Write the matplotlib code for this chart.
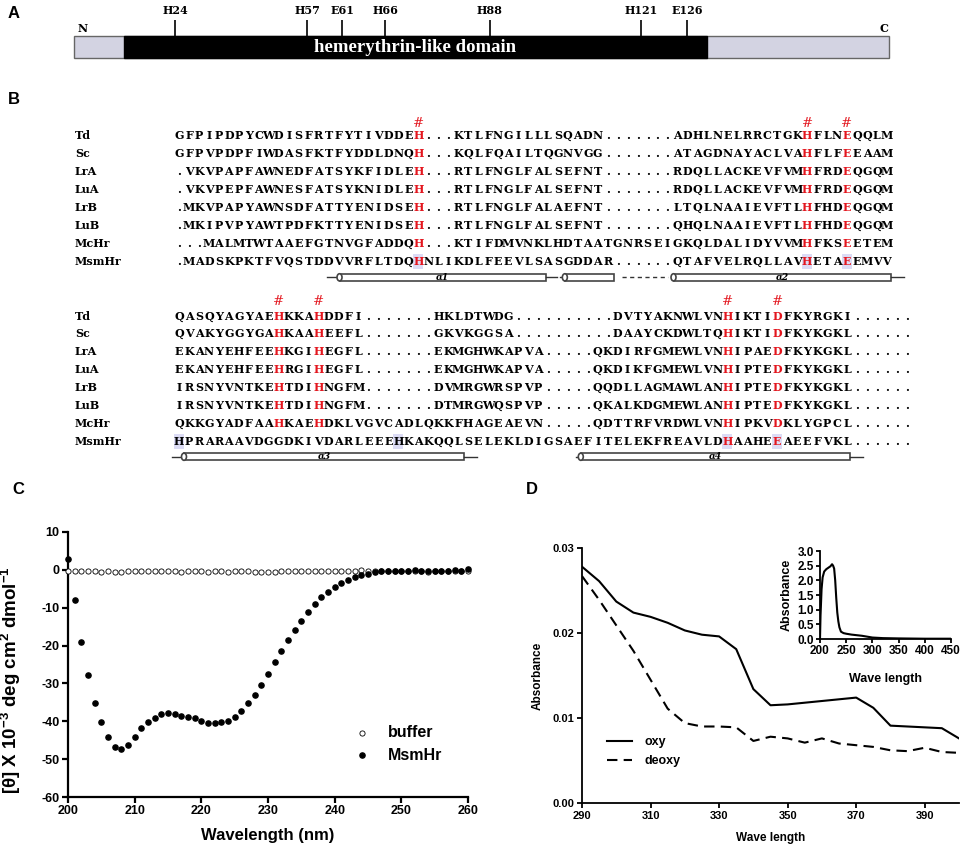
import matplotlib
matplotlib.use("Agg")
import matplotlib.pyplot as plt
from matplotlib.patches import Rectangle, Ellipse
import matplotlib.transforms as mtransforms
from matplotlib.ticker import FormatStrFormatter

plt.rcParams['font.family'] = ['Liberation Sans', 'DejaVu Sans']
plt.rcParams['axes.unicode_minus'] = False
plt.rcParams['mathtext.fontset'] = 'custom'
plt.rcParams['mathtext.rm'] = 'Liberation Sans:bold'
plt.rcParams['mathtext.it'] = 'Liberation Sans:bold'
plt.rcParams['mathtext.bf'] = 'Liberation Sans:bold'
plt.rcParams['mathtext.default'] = 'rm'

# ------------------------------------------------------------------ data
# Panel A (schematic positions along the protein bar, 0..1)
domain_label = "hemerythrin-like domain"
domain_span = (0.061, 0.777)
site_labels = ["H24", "H57", "E61", "H66", "H88", "H121", "E126"]
site_pos = [0.124, 0.286, 0.329, 0.382, 0.510, 0.696, 0.752]

# Panel B
seq_names = ["Td", "Sc", "LrA", "LuA", "LrB", "LuB", "McHr", "MsmHr"]
block1_seqs = [
    "GFPIPDPYCWDISFRTFYTIVDDEH...KTLFNGILLLSQADN.......ADHLNELRRCTGKHFLNEQQLM",
    "GFPVPDPFIWDASFKTFYDDLDNQH...KQLFQAILTQGNVGG.......ATAGDNAYACLVAHFLFEEAAM",
    ".VKVPAPFAWNEDFATSYKFIDLEH...RTLFNGLFALSEFNT.......RDQLLACKEVFVMHFRDEQGQM",
    ".VKVPEPFAWNESFATSYKNIDLEH...RTLFNGLFALSEFNT.......RDQLLACKEVFVMHFRDEQGQM",
    ".MKVPAPYAWNSDFATTYENIDSEH...RTLFNGLFALAEFNT.......LTQLNAAIEVFTLHFHDEQGQM",
    ".MKIPVPYAWTPDFKTTYENIDSEH...RTLFNGLFALSEFNT.......QHQLNAAIEVFTLHFHDEQGQM",
    "...MALMTWTAAEFGTNVGFADDQH...KTIFDMVNKLHDTAATGNRSEIGKQLDALIDYVVMHFKSEETEM",
    ".MADSKPKTFVQSTDDVVRFLTDQHNLIKDLFEEVLSASGDDAR......QTAFVELRQLLAVHETAEEMVV",
]
block2_seqs = [
    "QASQYAGYAEHKKAHDDFI.......HKLDTWDG..........DVTYAKNWLVNHIKTIDFKYRGKI......",
    "QVAKYGGYGAHKAAHEEFL.......GKVKGGSA..........DAAYCKDWLTQHIKTIDFKYKGKL......",
    "EKANYEHFEEHKGIHEGFL.......EKMGHWKAPVA.....QKDIRFGMEWLVNHIPAEDFKYKGKL......",
    "EKANYEHFEEHRGIHEGFL.......EKMGHWKAPVA.....QKDIKFGMEWLVNHIPTEDFKYKGKL......",
    "IRSNYVNTKEHTDIHNGFM.......DVMRGWRSPVP.....QQDLLAGMAWLANHIPTEDFKYKGKL......",
    "IRSNYVNTKEHTDIHNGFM.......DTMRGWQSPVP.....QKALKDGMEWLANHIPTEDFKYKGKL......",
    "QKKGYADFAAHKAEHDKLVGVCADLQKKFHAGEAEVN.....QDTTRFVRDWLVNHIPKVDKLYGPCL......",
    "HPRARAAVDGGDKIVDARLEEEHKAKQQLSELEKLDIGSAEFITELEKFREAVLDHAAHEEAEEFVKL......",
]
block1_marks = [25, 64, 68]          # columns flagged with '#'
block2_marks = [11, 15, 56, 61]
block1_shaded = [25, 64, 68]         # shaded columns in MsmHr
block2_shaded = [1, 23, 56, 61]
# secondary structure (kind, start column, end column, label)
block1_ss = [("line", 15.8, 17.1, ""), ("helix", 17.1, 37.8, "α1"), ("line", 37.8, 38.9, ""),
             ("line", 39.2, 39.7, ""), ("helix", 39.7, 44.6, ""), ("dash", 45.4, 50.0, ""),
             ("helix", 50.6, 72.4, "α2"), ("line", 72.4, 73.7, "")]
block2_ss = [("line", 0.3, 1.5, ""), ("helix", 1.5, 29.6, "α3"), ("line", 29.6, 30.9, ""),
             ("line", 40.8, 41.3, ""), ("helix", 41.3, 68.3, "α4"), ("line", 68.3, 69.6, "")]

# Panel C (CD spectrum)
cd_wavelength = list(range(200, 261))
cd_buffer = [-0.4, -0.4, -0.4, -0.2, -0.3, -0.5, -0.4, -0.5, -0.5, -0.4,
             -0.3, -0.4, -0.2, -0.3, -0.4, -0.3, -0.4, -0.5, -0.4, -0.3,
             -0.4, -0.5, -0.3, -0.3, -0.5, -0.4, -0.3, -0.4, -0.5, -0.5,
             -0.5, -0.6, -0.4, -0.2, -0.3, -0.3, -0.2, -0.3, -0.3, -0.3,
             -0.3, -0.4, -0.4, -0.2, -0.1, -0.2, -0.3, -0.3, -0.2, -0.3,
             -0.3, -0.3, -0.2, -0.3, -0.5, -0.4, -0.3, -0.3, -0.2, -0.3, -0.3]
cd_msmhr = [3.0, -8.0, -19.0, -27.7, -35.1, -40.1, -44.1, -46.7, -47.2, -46.2,
            -44.1, -41.8, -40.3, -39.2, -38.2, -37.8, -38.2, -38.5, -38.9, -39.1,
            -40.0, -40.5, -40.4, -40.1, -40.0, -38.9, -37.2, -35.1, -33.0, -30.4,
            -27.5, -24.4, -21.5, -18.6, -15.9, -13.5, -11.1, -8.9, -7.3, -5.8,
            -4.6, -3.4, -2.6, -1.9, -1.3, -1.0, -0.6, -0.4, -0.3, -0.2,
            -0.2, -0.3, -0.1, -0.2, -0.3, -0.3, -0.2, -0.2, -0.1, -0.2, 0.1]

# Panel D (absorbance)
uv_wavelength = [290, 295, 300, 305, 310, 315, 320, 325, 330, 335, 340, 345,
                 350, 355, 360, 365, 370, 375, 380, 385, 390, 395, 400]
uv_oxy = [0.0278, 0.0261, 0.0237, 0.0224, 0.0219, 0.0212, 0.0203, 0.0198, 0.0196, 0.0181,
          0.0134, 0.0115, 0.0116, 0.0118, 0.0120, 0.0122, 0.0124, 0.0112, 0.0091, 0.0090,
          0.0089, 0.0088, 0.0076]
uv_deoxy = [0.0267, 0.0239, 0.0209, 0.0179, 0.0145, 0.0111, 0.0094, 0.0090, 0.0090, 0.0089,
            0.0073, 0.0078, 0.0076, 0.0071, 0.0076, 0.0070, 0.0068, 0.0066, 0.0062, 0.0061,
            0.0065, 0.0060, 0.0059]
inset_wavelength = [200, 201, 203, 205, 208, 212, 216, 220, 223, 225, 227, 229, 231, 233,
                    235, 237, 240, 245, 250, 260, 270, 280, 290, 300, 320, 350, 400, 450]
inset_abs = [0.0, 0.8, 1.7, 2.1, 2.3, 2.38, 2.43, 2.48, 2.55, 2.5, 2.4, 2.0, 1.4, 0.9,
             0.6, 0.4, 0.25, 0.2, 0.18, 0.15, 0.13, 0.11, 0.08, 0.05, 0.03, 0.02, 0.01, 0.01]

# ------------------------------------------------------------------ figure
W, H = 964, 849
fig = plt.figure(figsize=(W / 100, H / 100), dpi=100)
RED = '#e3161e'
LAV = '#dcdcf5'


def px_axes(l, t, r, b, **kw):
    return fig.add_axes([l / W, 1 - b / H, (r - l) / W, (b - t) / H], **kw)


panel_font = dict(fontsize=12, fontweight='bold', family='Liberation Sans', ha='center', va='center')
fig.text(14 / W, 1 - 14 / H, 'A', **panel_font)
fig.text(14 / W, 1 - 100 / H, 'B', **panel_font)
fig.text(18 / W, 1 - 490 / H, 'C', **panel_font)
fig.text(532 / W, 1 - 490 / H, 'D', **panel_font)

seqfont = dict(family='DejaVu Serif', fontweight='bold', fontsize=8)

# ---------------- Panel A
axA = px_axes(74, 0, 889, 95)
axA.set_xlim(0, 1)
axA.set_ylim(95, 0)
axA.axis('off')
axA.add_patch(Rectangle((0, 36), 1, 22, facecolor='#d3d3e2', edgecolor='#666666', lw=1.0, clip_on=False))
axA.add_patch(Rectangle((domain_span[0], 36), domain_span[1] - domain_span[0], 22,
                        facecolor='black', edgecolor='black', lw=1.0))
for lab, p in zip(site_labels, site_pos):
    axA.plot([p, p], [20, 36], color='black', lw=1.2, solid_capstyle='butt')
    axA.text(p, 11, lab, ha='center', va='center', **seqfont)
axA.text(0.004, 29, 'N', ha='left', va='center', **seqfont)
axA.text(0.999, 29, 'C', ha='right', va='center', **seqfont)
axA.text((domain_span[0] + domain_span[1]) / 2, 47, domain_label, color='white',
         ha='center', va='center', family='Liberation Serif', fontweight='bold', fontsize=13.5)

# ---------------- Panel B


def draw_block(ax, seqs, marks, shaded, ss, mark_row):
    blend = mtransforms.blended_transform_factory(ax.transAxes, ax.transData)
    nrows = len(seqs)
    for r, (name, seq) in enumerate(zip(seq_names, seqs)):
        ax.text(75 / W, r, name, transform=blend, ha='left', va='center', **seqfont)
        for c, ch in enumerate(seq, start=1):
            red = (c in marks) and (ch in 'HDE')
            ax.text(c, r, ch, ha='center', va='center', color=RED if red else 'black',
                    zorder=3, **seqfont)
    for c in shaded:
        ax.add_patch(Rectangle((c - 0.5, nrows - 1 - 0.42), 1, 0.84, facecolor=LAV,
                               edgecolor='none', zorder=1))
    for c in marks:
        ax.text(c, mark_row, '#', color=RED, ha='center', va='center',
                family='DejaVu Serif', fontsize=9.5)
    ys = nrows - 1 + 0.88
    for kind, x0, x1, lab in ss:
        if kind == 'line':
            ax.plot([x0, x1], [ys, ys], color='#333333', lw=1.0, zorder=2)
        elif kind == 'dash':
            ax.plot([x0, x1], [ys, ys], color='#333333', lw=1.0, ls=(0, (3, 2.5)), zorder=2)
        else:
            ax.add_patch(Rectangle((x0, ys - 0.2), x1 - x0, 0.4, facecolor='white',
                                   edgecolor='#444444', lw=1.2, zorder=2))
            ax.add_patch(Ellipse((x0, ys), 0.5, 0.4, facecolor='white', edgecolor='#444444',
                                 lw=1.2, zorder=3))
            if lab:
                ax.text((x0 + x1) / 2, ys, lab, ha='center', va='center', family='DejaVu Serif',
                        style='italic', fontweight='bold', fontsize=6.5, zorder=4)


def col_lim(ax):
    ax.set_xlim((0 - 179) / 9.97 + 1, (964 - 179) / 9.97 + 1)


axB1 = px_axes(0, 110, 964, 287)
col_lim(axB1)
axB1.set_ylim((287 - 135.5) / 18, (110 - 135.5) / 18)
axB1.axis('off')
draw_block(axB1, block1_seqs, block1_marks, block1_shaded, block1_ss, -0.65)

axB2 = px_axes(0, 290, 964, 470)
col_lim(axB2)
axB2.set_ylim((470 - 316) / 17.86, (290 - 316) / 17.86)
axB2.axis('off')
draw_block(axB2, block2_seqs, block2_marks, block2_shaded, block2_ss, -0.8)

# ---------------- Panel C
axC = px_axes(68, 532, 468, 797)
axC.scatter(cd_wavelength, cd_buffer, s=14, facecolors='white', edgecolors='black',
            linewidths=0.6, zorder=3, clip_on=False, label='buffer')
axC.scatter(cd_wavelength, cd_msmhr, s=14, color='black', zorder=4, clip_on=False, label='MsmHr')
axC.set_xlim(200, 260)
axC.set_ylim(-60, 10)
axC.set_xticks(range(200, 261, 10))
axC.set_yticks(range(-60, 11, 10))
for s in ['top', 'right']:
    axC.spines[s].set_visible(False)
for s in ['left', 'bottom']:
    axC.spines[s].set_linewidth(1.6)
axC.tick_params(width=1.6, length=4, labelsize=9, pad=2)
for t in axC.get_xticklabels() + axC.get_yticklabels():
    t.set_fontweight('bold')
axC.set_xlabel('Wavelength (nm)', fontsize=12, fontweight='bold', labelpad=8)
axC.set_ylabel(r'[θ] X 10$^{-3}$ deg cm$^{2}$ dmol$^{-1}$', fontsize=13.5, fontweight='bold')
axC.yaxis.set_label_coords(-0.112, 0.44)
axC.legend(loc='upper left', bbox_to_anchor=(0.715, 0.27), frameon=False,
           prop=dict(family='Liberation Sans', weight='bold', size=11.5),
           handlelength=1.0, handletextpad=1.1, labelspacing=0.45, borderpad=0,
           borderaxespad=0, markerscale=1.0)

# ---------------- Panel D
axD = px_axes(582, 548, 959, 803)
axD.plot(uv_wavelength, uv_oxy, color='black', lw=1.5, label='oxy')
axD.plot(uv_wavelength, uv_deoxy, color='black', lw=1.5, ls=(0, (5, 3)), label='deoxy')
axD.set_xlim(290, 400)
axD.set_ylim(0, 0.03)
axD.set_xticks(range(290, 391, 20))
axD.set_yticks([0.0, 0.01, 0.02, 0.03])
axD.yaxis.set_major_formatter(FormatStrFormatter('%.2f'))
for s in ['top', 'right']:
    axD.spines[s].set_visible(False)
for s in ['left', 'bottom']:
    axD.spines[s].set_linewidth(1.3)
axD.tick_params(width=1.3, length=3.5, labelsize=8, pad=2)
for t in axD.get_xticklabels() + axD.get_yticklabels():
    t.set_fontweight('bold')
axD.set_xlabel('Wave length', fontsize=8.5, fontweight='bold', labelpad=8)
axD.set_ylabel('Absorbance', fontsize=8.5, fontweight='bold', labelpad=6)
axD.legend(loc='upper left', bbox_to_anchor=(0.066, 0.262), frameon=False,
           prop=dict(family='Liberation Sans', weight='bold', size=9),
           handlelength=2.0, handletextpad=1.0, labelspacing=0.55, borderpad=0, borderaxespad=0)

# inset
axI = px_axes(820, 551, 951, 639)
axI.plot(inset_wavelength, inset_abs, color='black', lw=1.5)
axI.set_xlim(200, 450)
axI.set_ylim(0, 3)
axI.set_xticks(range(200, 451, 50))
axI.set_yticks([0, 0.5, 1.0, 1.5, 2.0, 2.5, 3.0])
axI.yaxis.set_major_formatter(FormatStrFormatter('%.1f'))
for s in ['top', 'right']:
    axI.spines[s].set_visible(False)
for s in ['left', 'bottom']:
    axI.spines[s].set_linewidth(1.3)
axI.tick_params(width=1.3, length=3, labelsize=8.5, pad=1.5)
for t in axI.get_xticklabels() + axI.get_yticklabels():
    t.set_fontweight('bold')
axI.set_xlabel('Wave length', fontsize=9, fontweight='bold', labelpad=11)
axI.set_ylabel('Absorbance', fontsize=9, fontweight='bold', labelpad=3)

fig.savefig('out.png', dpi=100)
